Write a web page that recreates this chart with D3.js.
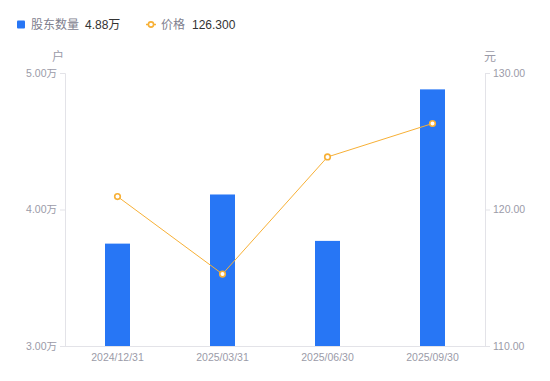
<!DOCTYPE html>
<html><head><meta charset="utf-8">
<script src="https://cdn.jsdelivr.net/npm/d3@7"></script>
<style>
body{margin:0;background:#fff;}
text{font-family:"Liberation Sans","Noto Sans CJK SC",Arial,sans-serif;}
</style></head>
<body><svg id="c" width="550" height="381"></svg>
<script>
const categories = ["2024/12/31","2025/03/31","2025/06/30","2025/09/30"];
const holders = [3.75, 4.11, 3.77, 4.88];   // 万户
const prices = [120.95, 115.27, 123.85, 126.30]; // 元
const leftTicks = [3, 4, 5];
const rightTicks = [110, 120, 130];

const svg = d3.select("#c");
const L = 65, R = 485, T = 73, B = 346;
const x = d3.scaleBand().domain(categories).range([L, R]).padding(0);
const yL = d3.scaleLinear().domain([3, 5]).range([B, T]);
const yR = d3.scaleLinear().domain([110, 130]).range([B, T]);
const axisColor = "#e3e3e8", tickText = "#9b9ba8";

// axes
const gl = svg.append("g").attr("transform", `translate(${L},0)`)
  .call(d3.axisLeft(yL).tickValues(leftTicks).tickSize(5).tickPadding(3).tickFormat(d => d3.format(".2f")(d) + "万"));
const gr = svg.append("g").attr("transform", `translate(${R},0)`)
  .call(d3.axisRight(yR).tickValues(rightTicks).tickSize(5).tickPadding(3).tickFormat(d3.format(".2f")));
const gb = svg.append("g").attr("transform", `translate(0,${B})`)
  .call(d3.axisBottom(x).tickSize(0).tickPadding(8));
[gl, gr, gb].forEach(g => {
  g.selectAll("path,line").attr("stroke", axisColor);
  g.selectAll("text").attr("fill", tickText).style("font-size", "10.5px");
});
gb.select(".domain").attr("d", `M${L},0.5H${R}`);

// unit labels
svg.append("text").attr("x", 58).attr("y", 61).attr("text-anchor", "middle")
  .attr("fill", tickText).style("font-size", "12px").text("户");
svg.append("text").attr("x", 490).attr("y", 61).attr("text-anchor", "middle")
  .attr("fill", tickText).style("font-size", "12px").text("元");

// bars
const bw = 25;
svg.append("g").selectAll("rect").data(holders).join("rect")
  .attr("x", (d, i) => x(categories[i]) + x.bandwidth() / 2 - bw / 2)
  .attr("y", d => yL(d)).attr("width", bw).attr("height", d => B - yL(d))
  .attr("fill", "#2776f5");

// line
const lineColor = "#f7b036";
const line = d3.line().x((d, i) => x(categories[i]) + x.bandwidth() / 2).y(d => yR(d));
svg.append("path").datum(prices).attr("d", line).attr("fill", "none")
  .attr("stroke", lineColor).attr("stroke-width", 1);
svg.append("g").selectAll("circle").data(prices).join("circle")
  .attr("cx", (d, i) => x(categories[i]) + x.bandwidth() / 2).attr("cy", d => yR(d))
  .attr("r", 2.8).attr("fill", "#fff").attr("stroke", lineColor).attr("stroke-width", 1.6);

// legend
svg.append("rect").attr("x", 17).attr("y", 20.5).attr("width", 8).attr("height", 8).attr("rx", 1).attr("fill", "#2776f5");
svg.append("text").attr("x", 31).attr("y", 29).attr("fill", "#80808e").style("font-size", "12px").text("股东数量");
svg.append("text").attr("x", 85).attr("y", 29).attr("fill", "#333").style("font-size", "12px").text(d3.format(".2f")(holders[3]) + "万");
svg.append("line").attr("x1", 146).attr("x2", 156).attr("y1", 24.5).attr("y2", 24.5).attr("stroke", lineColor).attr("stroke-width", 1.5);
svg.append("circle").attr("cx", 151).attr("cy", 24.5).attr("r", 2.6).attr("fill", "#fff").attr("stroke", lineColor).attr("stroke-width", 1.6);
svg.append("text").attr("x", 161).attr("y", 29).attr("fill", "#80808e").style("font-size", "12px").text("价格");
svg.append("text").attr("x", 192).attr("y", 29).attr("fill", "#333").style("font-size", "12px").text(d3.format(".3f")(prices[3]));
</script></body></html>
